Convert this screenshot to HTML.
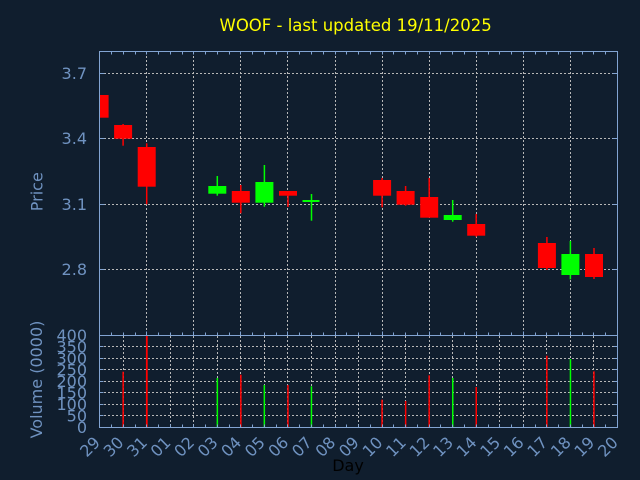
<!DOCTYPE html>
<html><head><meta charset="utf-8"><style>
html,body{margin:0;padding:0;background:#101e2e;}
svg{display:block;}
text{font-family:"DejaVu Sans","Liberation Sans",sans-serif;}
</style></head><body>
<svg width="640" height="480" viewBox="0 0 640 480" xmlns="http://www.w3.org/2000/svg">
<rect width="640" height="480" fill="#101e2e"/>
<text x="219.5" y="31" font-size="16.5" fill="#ffff00">WOOF - last updated 19/11/2025</text>
<defs><clipPath id="pc"><rect x="100" y="52" width="517" height="283"/></clipPath></defs>
<g stroke="#b8b8b8" stroke-width="1" stroke-dasharray="2,2" fill="none">
<path d="M100 73.5H617M100 138.5H617M100 204.5H617M100 269.5H617"/>
<path d="M146.5 52V335M193.5 52V335M240.5 52V335M287.5 52V335M335.5 52V335M382.5 52V335M429.5 52V335M476.5 52V335M523.5 52V335M570.5 52V335"/>
<path d="M100 346.5H617M100 358.5H617M100 369.5H617M100 381.5H617M100 392.5H617M100 404.5H617M100 415.5H617"/>
<path d="M123.5 336V427M146.5 336V427M170.5 336V427M193.5 336V427M217.5 336V427M240.5 336V427M264.5 336V427M287.5 336V427M311.5 336V427M335.5 336V427M358.5 336V427M382.5 336V427M405.5 336V427M429.5 336V427M452.5 336V427M476.5 336V427M499.5 336V427M523.5 336V427M546.5 336V427M570.5 336V427M593.5 336V427"/>
</g>
<g clip-path="url(#pc)">
<g stroke-width="1.5">
<line x1="123.1" y1="124" x2="123.1" y2="145.7" stroke="#ff0000"/>
<line x1="146.7" y1="143.3" x2="146.7" y2="204.3" stroke="#ff0000"/>
<line x1="217.3" y1="176" x2="217.3" y2="195.7" stroke="#00ff00"/>
<line x1="240.8" y1="185" x2="240.8" y2="213.3" stroke="#ff0000"/>
<line x1="264.4" y1="165" x2="264.4" y2="206.7" stroke="#00ff00"/>
<line x1="288" y1="191" x2="288" y2="207" stroke="#ff0000"/>
<line x1="311.5" y1="194" x2="311.5" y2="220.7" stroke="#00ff00"/>
<line x1="382.1" y1="178" x2="382.1" y2="207.3" stroke="#ff0000"/>
<line x1="405.6" y1="186" x2="405.6" y2="205.7" stroke="#ff0000"/>
<line x1="429.2" y1="178" x2="429.2" y2="217.7" stroke="#ff0000"/>
<line x1="452.7" y1="200" x2="452.7" y2="221.7" stroke="#00ff00"/>
<line x1="476.2" y1="214" x2="476.2" y2="236.7" stroke="#ff0000"/>
<line x1="546.9" y1="237" x2="546.9" y2="270" stroke="#ff0000"/>
<line x1="570.4" y1="241" x2="570.4" y2="279.3" stroke="#00ff00"/>
<line x1="594" y1="248" x2="594" y2="279" stroke="#ff0000"/>
</g>
<rect x="90.6" y="95" width="18" height="22.7" fill="#ff0000"/>
<rect x="114.1" y="125" width="18" height="13.7" fill="#ff0000"/>
<rect x="137.7" y="147" width="18" height="39.7" fill="#ff0000"/>
<rect x="208.3" y="186" width="18" height="7.7" fill="#00ff00"/>
<rect x="231.8" y="191" width="18" height="11.7" fill="#ff0000"/>
<rect x="255.4" y="182" width="18" height="20.7" fill="#00ff00"/>
<rect x="279" y="191" width="18" height="4.7" fill="#ff0000"/>
<rect x="302.5" y="200" width="17" height="2" fill="#00ff00"/>
<rect x="373.1" y="180" width="18" height="15.7" fill="#ff0000"/>
<rect x="396.6" y="191" width="18" height="13.7" fill="#ff0000"/>
<rect x="420.2" y="197" width="18" height="20.7" fill="#ff0000"/>
<rect x="443.7" y="215" width="18" height="5" fill="#00ff00"/>
<rect x="467.2" y="224" width="18" height="11.7" fill="#ff0000"/>
<rect x="537.9" y="243" width="18" height="25" fill="#ff0000"/>
<rect x="561.4" y="254" width="18" height="21" fill="#00ff00"/>
<rect x="585" y="254" width="18" height="23" fill="#ff0000"/>
</g>
<g>
<rect x="122.4" y="371.7" width="1.5" height="55.3" fill="#ff0000"/>
<rect x="145.9" y="335.7" width="1.8" height="91.3" fill="#ff0000"/>
<rect x="216.6" y="378" width="1.5" height="49" fill="#00ff00"/>
<rect x="240.1" y="374.7" width="1.5" height="52.3" fill="#ff0000"/>
<rect x="263.6" y="385" width="1.5" height="42" fill="#00ff00"/>
<rect x="287.2" y="385" width="1.5" height="42" fill="#ff0000"/>
<rect x="310.7" y="386.3" width="1.5" height="40.7" fill="#00ff00"/>
<rect x="381.3" y="399.7" width="1.5" height="27.3" fill="#ff0000"/>
<rect x="404.9" y="401" width="1.5" height="26" fill="#ff0000"/>
<rect x="428.4" y="375.3" width="1.5" height="51.7" fill="#ff0000"/>
<rect x="452" y="378" width="1.5" height="49" fill="#00ff00"/>
<rect x="475.5" y="387" width="1.5" height="40" fill="#ff0000"/>
<rect x="546.1" y="355.7" width="1.5" height="71.3" fill="#ff0000"/>
<rect x="569.7" y="359" width="1.5" height="68" fill="#00ff00"/>
<rect x="593.2" y="371.3" width="1.5" height="55.7" fill="#ff0000"/>
</g>
<g stroke="#82a4d2" stroke-width="1" fill="none">
<path d="M99.5 51.5H617.5V427.5H99.5Z"/>
<path d="M99.5 335.5H617.5"/>
<path d="M111.5 51.5v3M123.5 51.5v3M135.5 51.5v3M146.5 51.5v3M158.5 51.5v3M170.5 51.5v3M182.5 51.5v3M193.5 51.5v3M205.5 51.5v3M217.5 51.5v3M229.5 51.5v3M240.5 51.5v3M252.5 51.5v3M264.5 51.5v3M276.5 51.5v3M287.5 51.5v3M299.5 51.5v3M311.5 51.5v3M323.5 51.5v3M335.5 51.5v3M346.5 51.5v3M358.5 51.5v3M370.5 51.5v3M382.5 51.5v3M393.5 51.5v3M405.5 51.5v3M417.5 51.5v3M429.5 51.5v3M440.5 51.5v3M452.5 51.5v3M464.5 51.5v3M476.5 51.5v3M488.5 51.5v3M499.5 51.5v3M511.5 51.5v3M523.5 51.5v3M535.5 51.5v3M546.5 51.5v3M558.5 51.5v3M570.5 51.5v3M582.5 51.5v3M593.5 51.5v3M605.5 51.5v3"/>
<path d="M111.5 335.5v-3M123.5 335.5v-3M135.5 335.5v-3M146.5 335.5v-4M158.5 335.5v-3M170.5 335.5v-3M182.5 335.5v-3M193.5 335.5v-4M205.5 335.5v-3M217.5 335.5v-3M229.5 335.5v-3M240.5 335.5v-4M252.5 335.5v-3M264.5 335.5v-3M276.5 335.5v-3M287.5 335.5v-4M299.5 335.5v-3M311.5 335.5v-3M323.5 335.5v-3M335.5 335.5v-4M346.5 335.5v-3M358.5 335.5v-3M370.5 335.5v-3M382.5 335.5v-4M393.5 335.5v-3M405.5 335.5v-3M417.5 335.5v-3M429.5 335.5v-4M440.5 335.5v-3M452.5 335.5v-3M464.5 335.5v-3M476.5 335.5v-4M488.5 335.5v-3M499.5 335.5v-3M511.5 335.5v-3M523.5 335.5v-4M535.5 335.5v-3M546.5 335.5v-3M558.5 335.5v-3M570.5 335.5v-4M582.5 335.5v-3M593.5 335.5v-3M605.5 335.5v-3"/>
<path d="M111.5 427.5v-3M123.5 427.5v-3M135.5 427.5v-3M146.5 427.5v-3M158.5 427.5v-3M170.5 427.5v-3M182.5 427.5v-3M193.5 427.5v-3M205.5 427.5v-3M217.5 427.5v-3M229.5 427.5v-3M240.5 427.5v-3M252.5 427.5v-3M264.5 427.5v-3M276.5 427.5v-3M287.5 427.5v-3M299.5 427.5v-3M311.5 427.5v-3M323.5 427.5v-3M335.5 427.5v-3M346.5 427.5v-3M358.5 427.5v-3M370.5 427.5v-3M382.5 427.5v-3M393.5 427.5v-3M405.5 427.5v-3M417.5 427.5v-3M429.5 427.5v-3M440.5 427.5v-3M452.5 427.5v-3M464.5 427.5v-3M476.5 427.5v-3M488.5 427.5v-3M499.5 427.5v-3M511.5 427.5v-3M523.5 427.5v-3M535.5 427.5v-3M546.5 427.5v-3M558.5 427.5v-3M570.5 427.5v-3M582.5 427.5v-3M593.5 427.5v-3M605.5 427.5v-3"/>
<path d="M99.5 73.5h5M99.5 138.5h5M99.5 204.5h5M99.5 269.5h5M617.5 73.5h-5M617.5 138.5h-5M617.5 204.5h-5M617.5 269.5h-5"/>
<path d="M99.5 346.5h4M99.5 358.5h4M99.5 369.5h4M99.5 381.5h4M99.5 392.5h4M99.5 404.5h4M99.5 415.5h4M617.5 346.5h-4M617.5 358.5h-4M617.5 369.5h-4M617.5 381.5h-4M617.5 392.5h-4M617.5 404.5h-4M617.5 415.5h-4"/>
</g>
<g font-size="16" fill="#6f92c0" text-anchor="end">
<text x="87" y="79">3.7</text>
<text x="87" y="144">3.4</text>
<text x="87" y="210">3.1</text>
<text x="87" y="275">2.8</text>
<text x="87" y="341">400</text>
<text x="87" y="352.5">350</text>
<text x="87" y="364">300</text>
<text x="87" y="375.5">250</text>
<text x="87" y="387">200</text>
<text x="87" y="398.5">150</text>
<text x="87" y="410">100</text>
<text x="87" y="421.5">50</text>
<text x="87" y="433">0</text>
</g>
<g font-size="16" fill="#6f92c0" text-anchor="middle">
<text transform="translate(42.5,191.7) rotate(-90)">Price</text>
<text transform="translate(42,379.5) rotate(-90)">Volume (0000)</text>
</g>
<g font-size="16" fill="#6f92c0" text-anchor="end">
<text transform="translate(101.1,443.5) rotate(-45)">29</text>
<text transform="translate(124.6,443.5) rotate(-45)">30</text>
<text transform="translate(148.2,443.5) rotate(-45)">31</text>
<text transform="translate(171.7,443.5) rotate(-45)">01</text>
<text transform="translate(195.3,443.5) rotate(-45)">02</text>
<text transform="translate(218.8,443.5) rotate(-45)">03</text>
<text transform="translate(242.3,443.5) rotate(-45)">04</text>
<text transform="translate(265.9,443.5) rotate(-45)">05</text>
<text transform="translate(289.4,443.5) rotate(-45)">06</text>
<text transform="translate(313,443.5) rotate(-45)">07</text>
<text transform="translate(336.5,443.5) rotate(-45)">08</text>
<text transform="translate(360,443.5) rotate(-45)">09</text>
<text transform="translate(383.6,443.5) rotate(-45)">10</text>
<text transform="translate(407.1,443.5) rotate(-45)">11</text>
<text transform="translate(430.7,443.5) rotate(-45)">12</text>
<text transform="translate(454.2,443.5) rotate(-45)">13</text>
<text transform="translate(477.7,443.5) rotate(-45)">14</text>
<text transform="translate(501.3,443.5) rotate(-45)">15</text>
<text transform="translate(524.8,443.5) rotate(-45)">16</text>
<text transform="translate(548.4,443.5) rotate(-45)">17</text>
<text transform="translate(571.9,443.5) rotate(-45)">18</text>
<text transform="translate(595.4,443.5) rotate(-45)">19</text>
<text transform="translate(619,443.5) rotate(-45)">20</text>
</g>
<text x="348" y="471" font-size="16" fill="#000000" text-anchor="middle">Day</text>
</svg>
</body></html>
